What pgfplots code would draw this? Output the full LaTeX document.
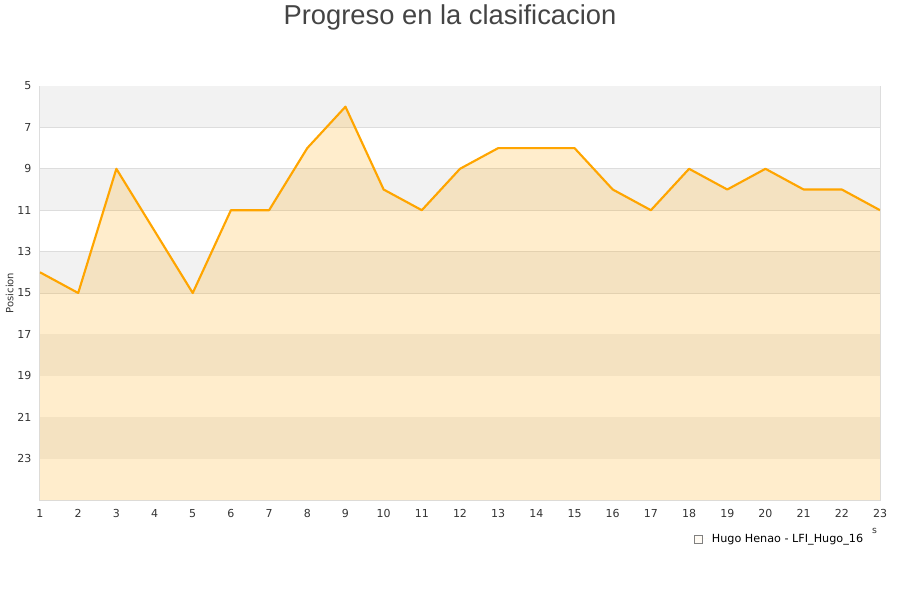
\documentclass[border=0pt]{standalone}
\usepackage{pgfplots}
\pgfplotsset{compat=1.18}
\usepackage{fontspec}
\setmainfont{DejaVu Sans}
\newfontfamily\titlefont{Liberation Sans}
\definecolor{lineor}{RGB}{255,165,0}
\definecolor{band}{RGB}{242,242,242}
\definecolor{gridc}{RGB}{221,221,221}
\definecolor{tickc}{RGB}{51,51,51}
\definecolor{titlec}{RGB}{68,68,68}
\definecolor{legfill}{RGB}{255,237,204}
\begin{document}
\begin{tikzpicture}
\begin{axis}[
  at={(0,0)}, anchor=south west,
  scale only axis, width=630pt, height=310.5pt,
  xmin=1, xmax=23, ymin=5, ymax=25,
  y dir=reverse,
  xtick={1,2,...,23}, ytick={5,7,...,23},
  major tick length=0pt,
  axis line style={gridc, line width=0.75pt},
  ymajorgrids, grid style={gridc, line width=0.75pt},
  tick label style={font=\fontsize{8.25pt}{10pt}\selectfont, text=tickc},
  /pgf/number format/assume math mode=true,
  yticklabel style={xshift=-3pt},
  xticklabel style={yshift=-3.5pt},
  ylabel={Posicion},
  ylabel style={font=\fontsize{7.5pt}{9pt}\selectfont, text=tickc, at={(axis description cs:-0.036,0.5)}, anchor=center},
  clip=true,
  legend style={at={(0.985,-0.094)}, anchor=east, draw=none, fill=none, font=\fontsize{8.4pt}{10pt}\selectfont, inner sep=1pt},
  legend cell align=left,
]
\fill[band] (axis cs:1,5) rectangle (axis cs:23,7);
\fill[band] (axis cs:1,9) rectangle (axis cs:23,11);
\fill[band] (axis cs:1,13) rectangle (axis cs:23,15);
\fill[band] (axis cs:1,17) rectangle (axis cs:23,19);
\fill[band] (axis cs:1,21) rectangle (axis cs:23,23);
\addplot[fill=lineor, fill opacity=0.2, draw=none,
  legend image code/.code={\path (0pt,0pt) -- (11pt,0pt); \draw[gray, line width=0.6pt, fill=legfill] (0pt,-3pt) rectangle (6pt,3pt);}]
  coordinates {(1,25)
(1,14)(2,15)(3,9)(4,12)(5,15)(6,11)(7,11)(8,8)(9,6)(10,10)(11,11)(12,9)(13,8)(14,8)(15,8)(16,10)(17,11)(18,9)(19,10)(20,9)(21,10)(22,10)(23,11)
(23,25)};
\addlegendentry{Hugo Henao - LFI\_Hugo\_16}
\addplot[lineor, line width=1.6pt, line join=round, forget plot] coordinates {
(1,14)(2,15)(3,9)(4,12)(5,15)(6,11)(7,11)(8,8)(9,6)(10,10)(11,11)(12,9)(13,8)(14,8)(15,8)(16,10)(17,11)(18,9)(19,10)(20,9)(21,10)(22,10)(23,11)};
\end{axis}
\node[font=\titlefont\fontsize{20.5pt}{22pt}\selectfont, text=titlec] at (307.5pt,362pt) {Progreso en la clasificacion};
\node[font=\fontsize{7pt}{8pt}\selectfont, text=tickc] at (626pt,-23pt) {s};
\path[use as bounding box] (-30pt,-75pt) rectangle (645pt,375pt);
\end{tikzpicture}
\end{document}
